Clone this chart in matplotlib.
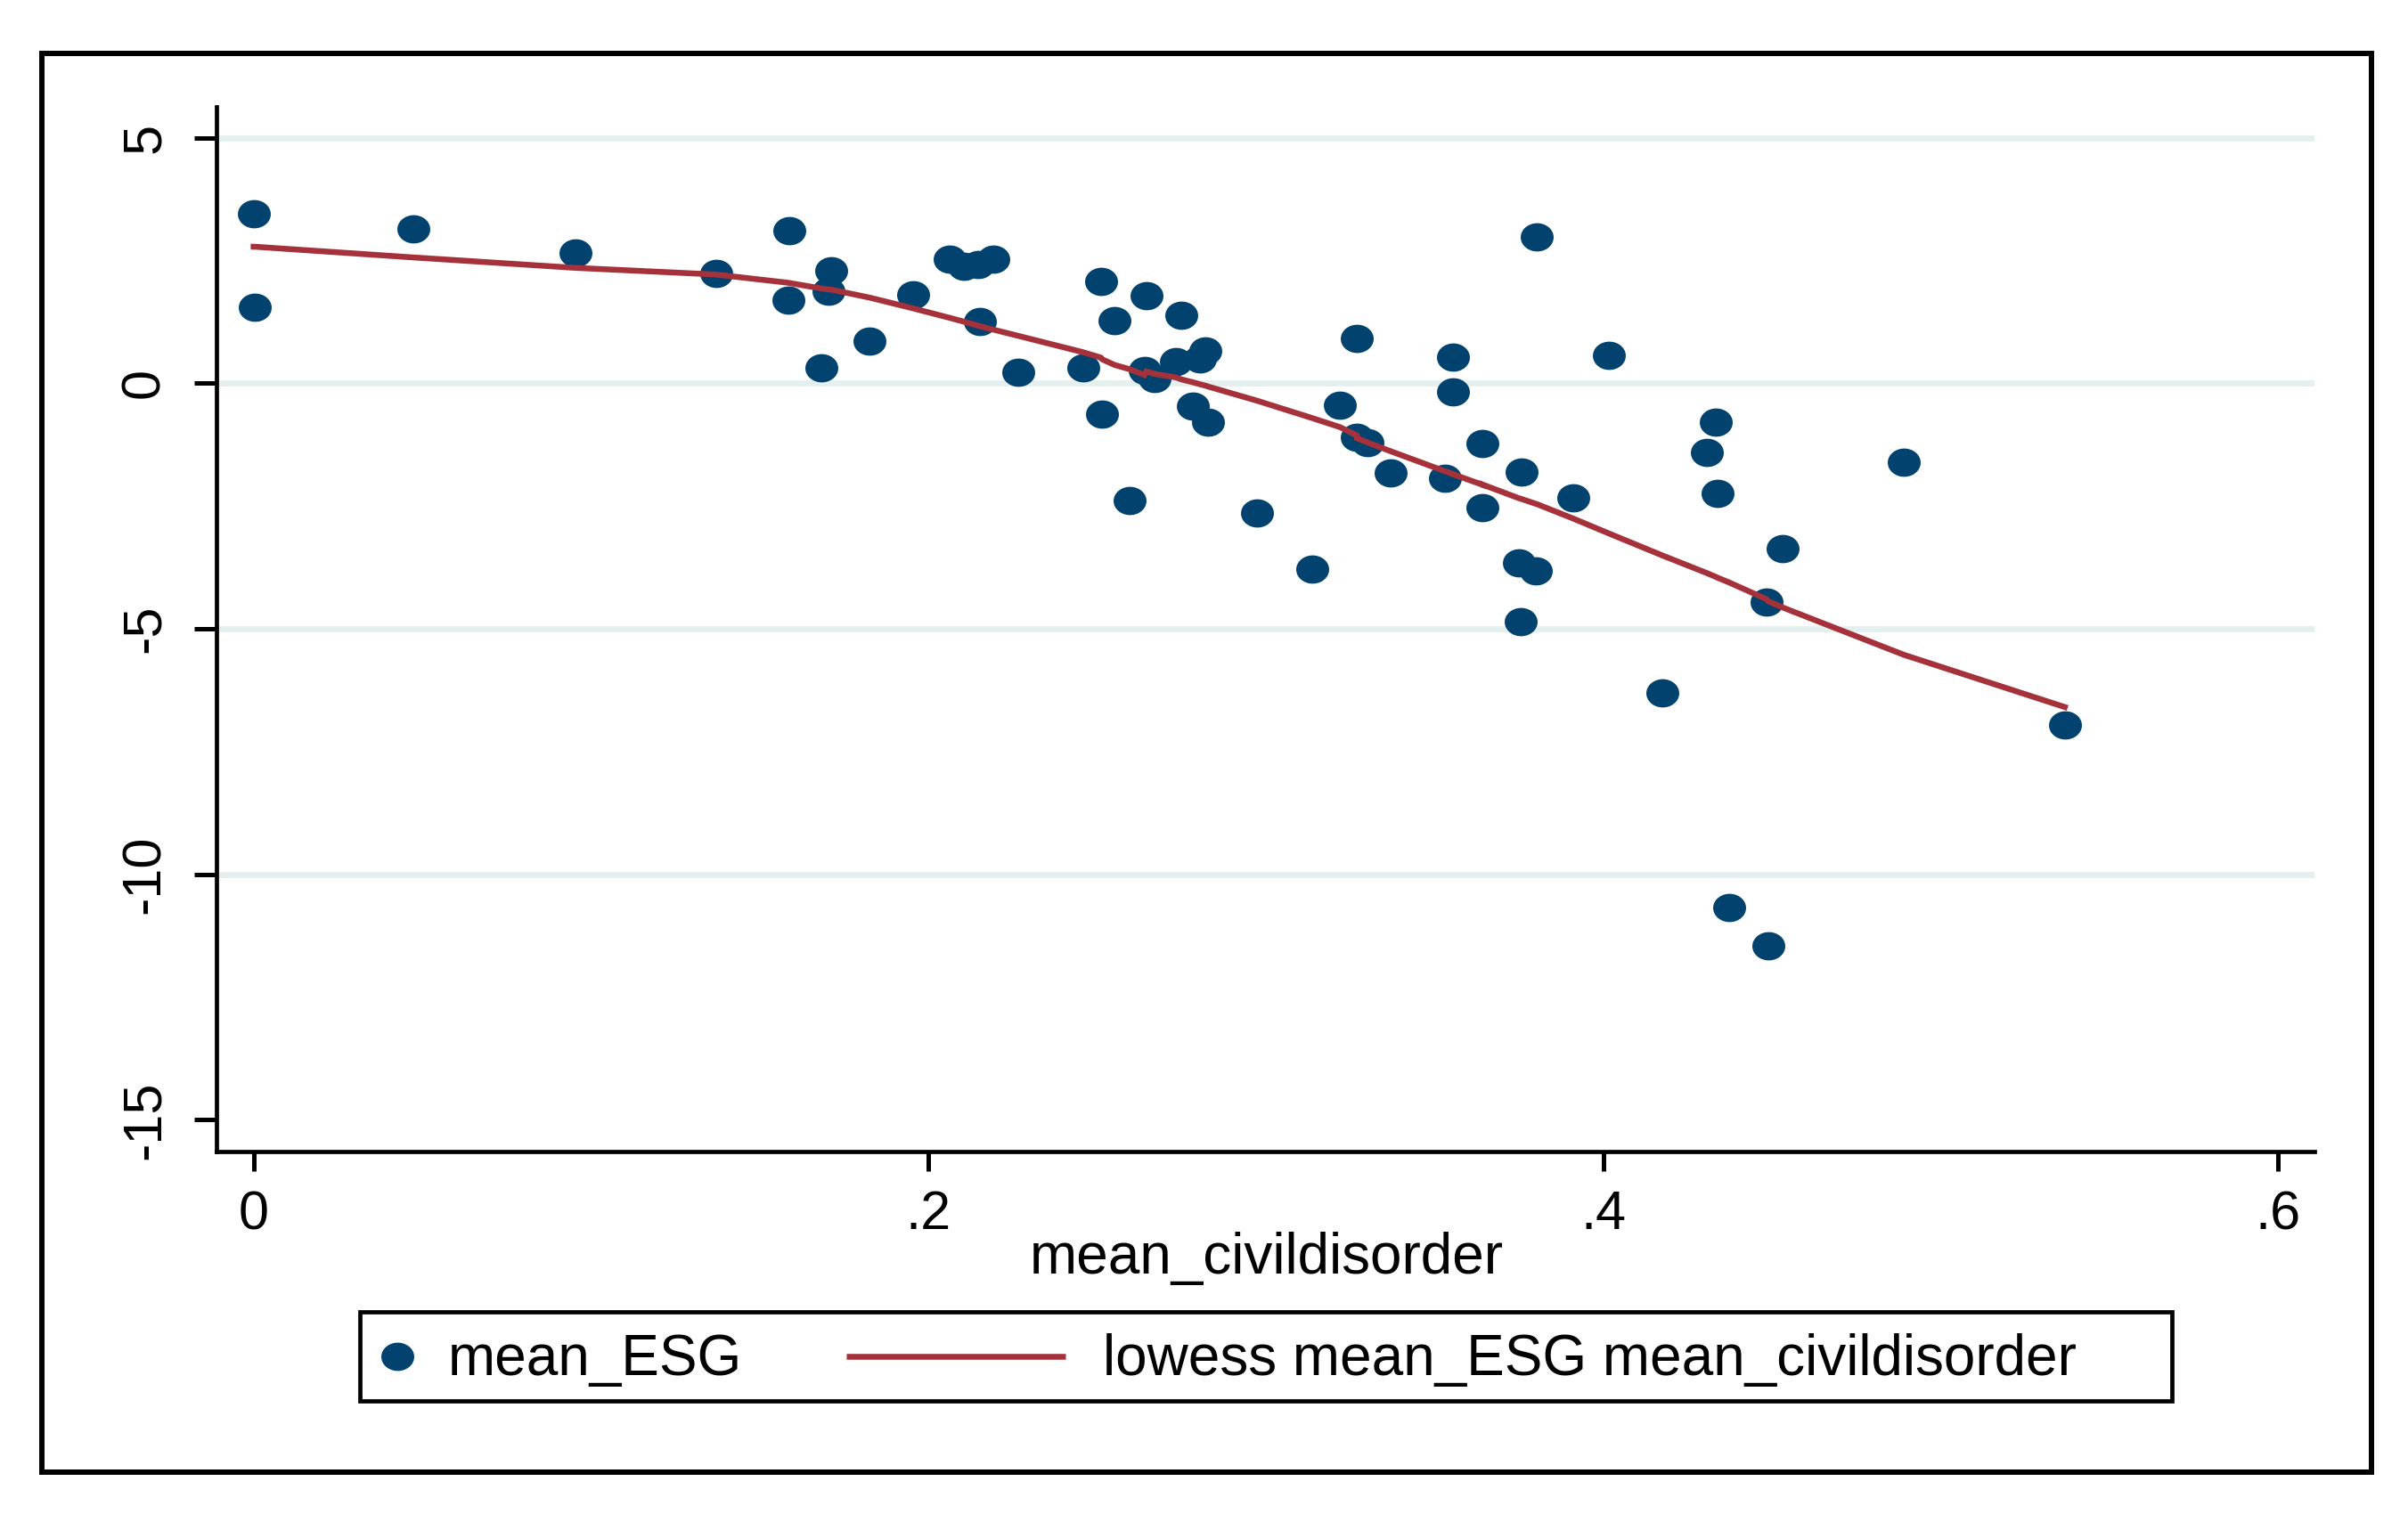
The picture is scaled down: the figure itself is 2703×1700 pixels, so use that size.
import numpy as np
import matplotlib
matplotlib.use("Agg")
import matplotlib.pyplot as plt
from matplotlib.path import Path
from matplotlib.patches import Rectangle
from matplotlib.lines import Line2D

# ---------------- data ----------------
mean_civildisorder = [
    0.0000, 0.0004, 0.0474, 0.0953, 0.1370, 0.1588, 0.1584, 0.1713, 0.1703, 0.1683,
    0.1825, 0.1955, 0.2064, 0.2106, 0.2147, 0.2193, 0.2152, 0.2265, 0.2458, 0.2511,
    0.2552, 0.2515, 0.2597, 0.2646, 0.2640, 0.2671, 0.2734, 0.2750, 0.2784, 0.2806,
    0.2820, 0.2829, 0.2975, 0.3137, 0.3220, 0.3270, 0.3270, 0.3300, 0.3370, 0.3530,
    0.3555, 0.3555, 0.3642, 0.3642, 0.3757, 0.3751, 0.3800, 0.3755, 0.3802, 0.3910,
    0.4016, 0.4174, 0.4307, 0.4333, 0.4339, 0.4372, 0.4483, 0.4489, 0.4533, 0.4890,
    0.5368,
]
mean_ESG = [
    3.45, 1.54, 3.14, 2.65, 2.23, 3.10, 1.70, 2.29, 1.87, 0.32,
    0.85, 1.81, 2.52, 2.38, 2.42, 2.52, 1.26, 0.23, 0.32, 2.08,
    1.27, -0.63, -2.39, 1.79, 0.26, 0.10, 0.45, 1.38, -0.47, 0.50,
    0.65, -0.80, -2.65, -3.78, -0.44, 0.92, -1.10, -1.21, -1.83, -1.94,
    0.54, -0.18, -1.22, -2.54, -1.81, -3.66, -3.83, -4.86, 2.98, -2.33,
    0.56, -6.31, -1.40, -0.80, -2.25, -10.67, -4.45, -11.46, -3.37, -1.60,
    -6.95,
]
x_ticks = [0, 0.2, 0.4, 0.6]
x_ticklabels = ["0", ".2", ".4", ".6"]
y_ticks = [-15, -10, -5, 0, 5]
y_ticklabels = ["-15", "-10", "-5", "0", "5"]
y_grid = [-10, -5, 0, 5]
x_title = "mean_civildisorder"
legend_labels = ["mean_ESG", "lowess mean_ESG mean_civildisorder"]

# ---------------- Stata-style lowess (bwidth 0.8, tricube, no robustness) ---
def stata_lowess(x, y, bw=0.8):
    x = np.asarray(x, float)
    y = np.asarray(y, float)
    order = np.argsort(x, kind="mergesort")
    xs, ys = x[order], y[order]
    n = len(xs)
    k = int(np.floor((n * bw - 0.5) / 2))
    out = np.empty(n)
    for i in range(n):
        lo = max(0, i - k)
        hi = min(n - 1, i + k)
        d = 1.0001 * max(xs[hi] - xs[i], xs[i] - xs[lo])
        xj = xs[lo:hi + 1]
        yj = ys[lo:hi + 1]
        w = (1 - (np.abs(xj - xs[i]) / d) ** 3) ** 3
        W = w.sum()
        xm = (w * xj).sum() / W
        ym = (w * yj).sum() / W
        sxx = (w * (xj - xm) ** 2).sum()
        b = (w * (xj - xm) * (yj - ym)).sum() / sxx if sxx > 0 else 0.0
        out[i] = ym + b * (xs[i] - xm)
    return xs, out

lx, ly = stata_lowess(mean_civildisorder, mean_ESG)

# ---------------- style ----------------
plt.rcParams["font.family"] = ["Liberation Sans", "DejaVu Sans"]
plt.rcParams["axes.unicode_minus"] = False

NAVY = "#01426E"
MAROON = "#A5313B"
GRID = "#E4EFF0"

W, H = 2703, 1700
fig = plt.figure(figsize=(W / 100, H / 100), dpi=100)
fig.patch.set_facecolor("white")

def fx(px):
    return px / W

def fy(py):
    return 1 - py / H

ax_l, ax_r, ax_t, ax_b = 243, 2598, 120, 1293
ax = fig.add_axes([fx(ax_l), fy(ax_b), (ax_r - ax_l) / W, (ax_b - ax_t) / H])
ax.set_xlim(-0.011, 0.6108)
ax.set_ylim(-15.646, 5.628)

# ellipse marker (slightly wider than tall, as in the reference)
t = np.linspace(0, 2 * np.pi, 64)
ell = Path(np.column_stack([np.cos(t), 0.86 * np.sin(t)]), closed=True)

ax.hlines(y_grid, -0.011, 0.6108, colors=GRID, linewidth=4.8, zorder=0)
ax.plot(mean_civildisorder, mean_ESG, linestyle="none", marker=ell,
        markersize=26.6, markerfacecolor=NAVY, markeredgewidth=0, color=NAVY,
        zorder=3)
ax.plot(lx, ly, color=MAROON, linewidth=4.7, zorder=4, solid_joinstyle="miter")

for s in ["top", "right"]:
    ax.spines[s].set_visible(False)
for s in ["left", "bottom"]:
    ax.spines[s].set_linewidth(3.4)
    ax.spines[s].set_color("black")

ax.set_xticks(x_ticks)
ax.set_xticklabels(x_ticklabels)
ax.set_yticks(y_ticks)
ax.set_yticklabels(y_ticklabels)
ax.tick_params(axis="x", length=16, width=3.6, pad=15, labelsize=44)
ax.tick_params(axis="y", length=18, width=3.6, pad=19, labelsize=44,
               labelrotation=90)
for lab in ax.get_yticklabels():
    lab.set_va("center")
    lab.set_ha("right")

ax.set_xlabel(x_title, fontsize=46)
ax.xaxis.set_label_coords(0.5004, (ax_b - 1430) / (ax_b - ax_t))
ax.xaxis.label.set_va("baseline")

# outer frame
fig.patches.append(Rectangle((fx(47), fy(1653)), fx(2662 - 47), (1653 - 60) / H,
                             transform=fig.transFigure, fill=False,
                             edgecolor="black", linewidth=4.3, zorder=10))

# legend (drawn in figure pixel layout like the Stata legend box)
fig.patches.append(Rectangle((fx(404), fy(1573)), fx(2438 - 404), 100 / H,
                             transform=fig.transFigure, fill=False,
                             edgecolor="black", linewidth=3.4, zorder=10))
fig.lines.append(Line2D([fx(446)], [fy(1523)], transform=fig.transFigure,
                        linestyle="none", marker=ell, markersize=26.6,
                        markerfacecolor=NAVY, markeredgewidth=0))
fig.text(fx(503), fy(1544), legend_labels[0], fontsize=46, va="baseline",
         ha="left")
fig.lines.append(Line2D([fx(950), fx(1196)], [fy(1523), fy(1523)],
                        transform=fig.transFigure, color=MAROON, linewidth=4.7,
                        solid_capstyle="butt"))
fig.text(fx(1238), fy(1544), legend_labels[1], fontsize=46, va="baseline",
         ha="left")

fig.savefig("out.png", dpi=100, facecolor="white")
